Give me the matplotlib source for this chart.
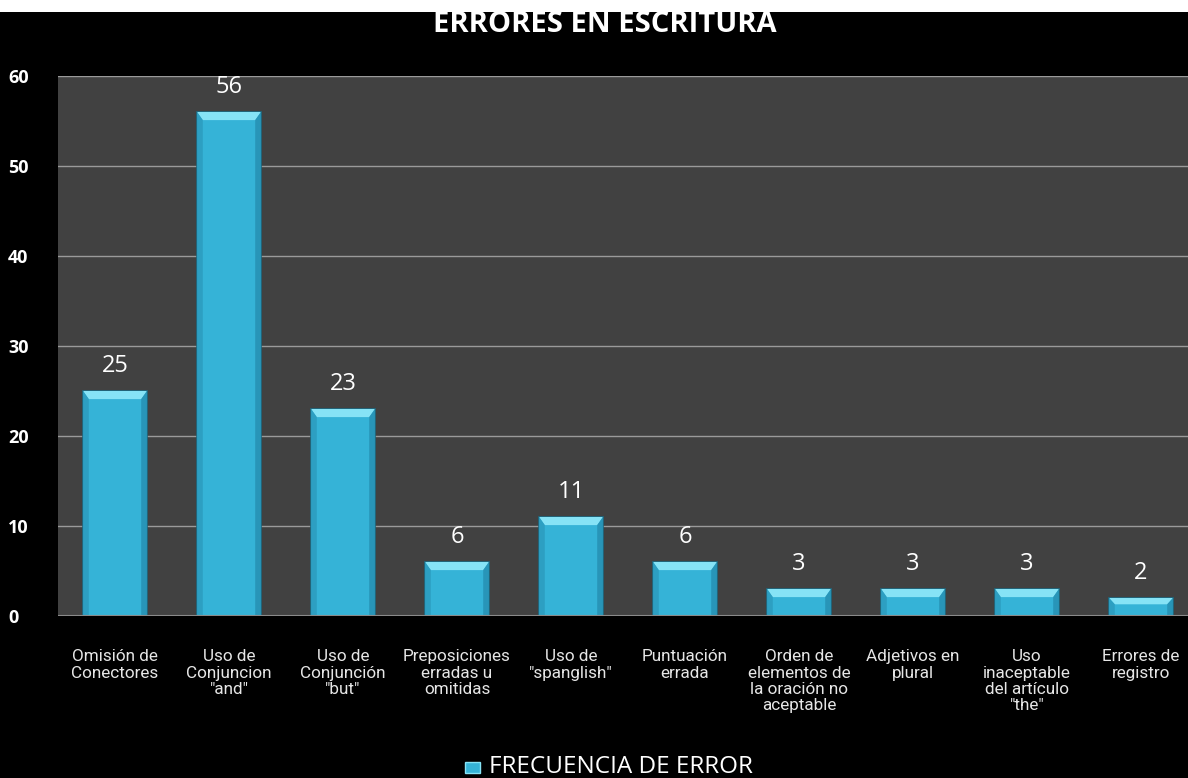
import matplotlib
matplotlib.use("Agg")
import matplotlib.pyplot as plt
from matplotlib.patches import Rectangle

categories = ["Omisión de\nConectores", "Uso de\nConjuncion\n\"and\"", "Uso de\nConjunción\n\"but\"",
              "Preposiciones\nerradas u\nomitidas", "Uso de\n\"spanglish\"", "Puntuación\nerrada",
              "Orden de\nelementos de\nla oración no\naceptable", "Adjetivos en\nplural",
              "Uso\ninaceptable\ndel artículo\n\"the\"", "Errores de\nregistro"]
values = [25, 56, 23, 6, 11, 6, 3, 3, 3, 2]
yticks = [0, 10, 20, 30, 40, 50, 60]
title = "ERRORES EN ESCRITURA"
legend_label = "FRECUENCIA DE ERROR"

W, H = 1188, 778
fig = plt.figure(figsize=(W/100, H/100), dpi=100, facecolor="black")
x0, x1 = 58, 1198
ytop, ybot = 76, 616
ax = fig.add_axes([x0/W, (H-ybot)/H, (x1-x0)/W, (ybot-ytop)/H])
ax.set_facecolor("#414141")
for s in ax.spines.values():
    s.set_visible(False)

xs = list(range(len(values)))
ax.set_xlim(-0.5, len(values)-0.5)
ax.set_ylim(0, 60)

for t in yticks[1:]:
    ax.axhline(t, color="#9a9a9a", lw=1.0, zorder=1)
ax.axhline(0, color="#8a8a8a", lw=1.5, zorder=6)

bw = 0.56
ax.bar(xs, values, width=bw, color="#35b3d7", edgecolor="#1d6a82", linewidth=1.2, zorder=2)

# top bevel highlight (trapezoid) and side shading, derived from bar geometry
dx = 0.05
dy = 0.9
for x, v in zip(xs, values):
    h = min(dy, v * 0.35)
    ax.fill([x - bw/2, x + bw/2, x + bw/2 - dx, x - bw/2 + dx],
            [v, v, v - h, v - h], color="#86e3f6", lw=0, zorder=3)
    ax.fill([x - bw/2, x - bw/2 + dx, x - bw/2 + dx, x - bw/2],
            [v, v - h, 0, 0], color="#2d9fc2", lw=0, zorder=3)
    ax.fill([x + bw/2, x + bw/2 - dx, x + bw/2 - dx, x + bw/2],
            [v, v - h, 0, 0], color="#2895b8", lw=0, zorder=3)

for x, v in zip(xs, values):
    ax.text(x, v + 2.1, str(v), ha="center", va="baseline", color="white",
            fontsize=17, family=["Open Sans", "DejaVu Sans"], zorder=5)

ax.set_xticks(xs)
ax.set_xticklabels(categories, color="#e6e6e6", fontsize=12.3,
                   family=["Liberation Sans Narrow", "Roboto", "DejaVu Sans"], linespacing=1.1)
ax.tick_params(axis="x", length=0, pad=24)
ax.set_yticks(yticks)
ax.set_yticklabels([str(t) for t in yticks], color="white", fontsize=13, fontweight="bold",
                   family=["Open Sans", "DejaVu Sans"])
ax.tick_params(axis="y", length=0, pad=0)
for lab in ax.get_yticklabels():
    lab.set_horizontalalignment("left")
    lab.set_x(-50/(x1-x0))

fig.text(605/W, 1 - 24/H, title, ha="center", va="center", color="white", fontsize=21,
         fontweight="bold", family=["Open Sans", "DejaVu Sans"])
# white band at the very top
fig.patches.append(Rectangle((0, 1 - 12/H), 1, 12/H, transform=fig.transFigure,
                             facecolor="white", edgecolor="none", zorder=10))

fig.text(489/W, 1 - 767/H, legend_label, ha="left", va="center", color="white", fontsize=17.5,
         family=["Open Sans", "DejaVu Sans"])
fig.patches.append(Rectangle((465/W, 1 - 773/H), 15/W, 11/H, transform=fig.transFigure,
                             facecolor="#35b3d7", edgecolor="#86e3f6", lw=1))

fig.savefig("out.png", dpi=100, facecolor="black")
